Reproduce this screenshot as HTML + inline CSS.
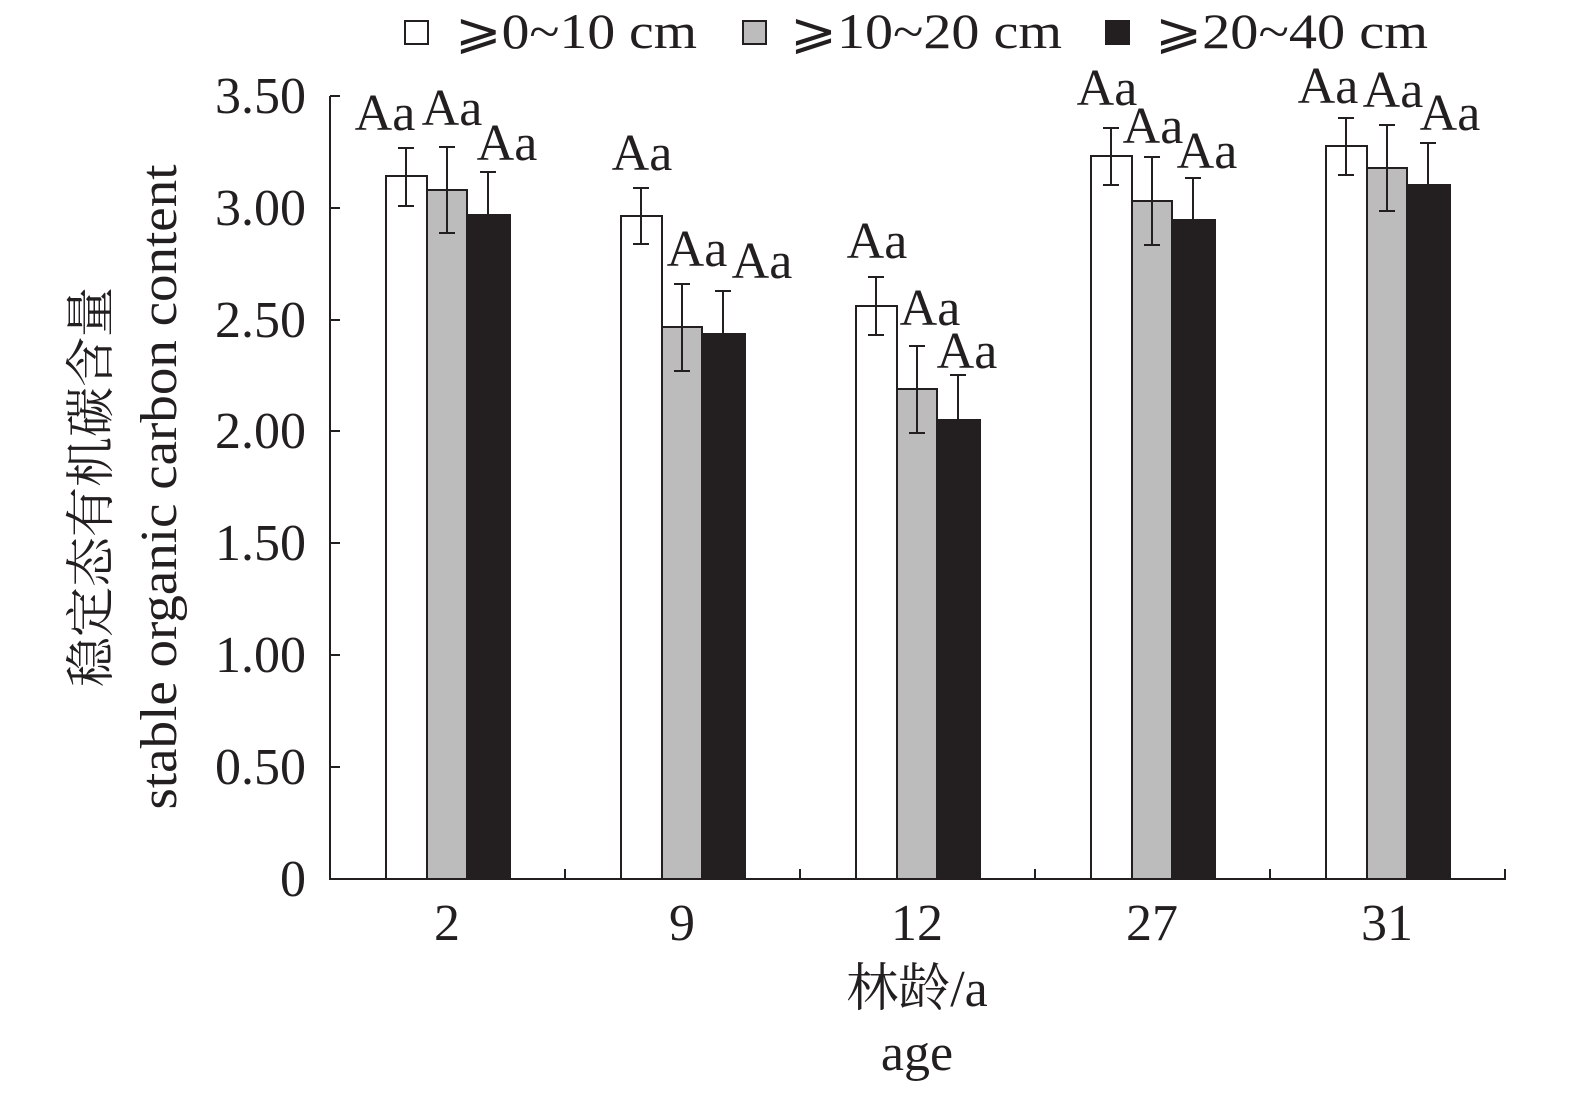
<!DOCTYPE html>
<html><head><meta charset="utf-8"><style>body{margin:0;background:#fff}svg{display:block}</style></head><body>
<svg width="1575" height="1096" viewBox="0 0 1575 1096" xmlns="http://www.w3.org/2000/svg" font-family="'Liberation Serif','Noto Serif CJK SC',serif" fill="#231f20">
<g font-size="50">
<rect x="405" y="21" width="23" height="23" fill="#fff" stroke="#231f20" stroke-width="2"/>
<text x="455" y="48" textLength="242" lengthAdjust="spacingAndGlyphs">⩾0~10 cm</text>
<rect x="743" y="21" width="23" height="23" fill="#bcbcbc" stroke="#231f20" stroke-width="2"/>
<text x="790" y="48" textLength="272" lengthAdjust="spacingAndGlyphs">⩾10~20 cm</text>
<rect x="1106" y="21" width="23" height="23" fill="#231f20" stroke="#231f20" stroke-width="2"/>
<text x="1155" y="48" textLength="273" lengthAdjust="spacingAndGlyphs">⩾20~40 cm</text>
</g>
<g stroke="#231f20" stroke-width="2" fill="none">
<line x1="330" y1="96" x2="330" y2="880"/>
<line x1="329" y1="879" x2="1506" y2="879"/>
<line x1="330" y1="96" x2="340" y2="96"/><line x1="330" y1="208" x2="340" y2="208"/><line x1="330" y1="320" x2="340" y2="320"/><line x1="330" y1="431" x2="340" y2="431"/><line x1="330" y1="543" x2="340" y2="543"/><line x1="330" y1="655" x2="340" y2="655"/><line x1="330" y1="767" x2="340" y2="767"/>
<line x1="565" y1="879" x2="565" y2="869"/><line x1="800" y1="879" x2="800" y2="869"/><line x1="1035" y1="879" x2="1035" y2="869"/><line x1="1270" y1="879" x2="1270" y2="869"/><line x1="1505" y1="879" x2="1505" y2="869"/>
</g>
<g font-size="52" text-anchor="end">
<text x="306" y="113">3.50</text><text x="306" y="225">3.00</text><text x="306" y="337">2.50</text><text x="306" y="448">2.00</text><text x="306" y="560">1.50</text><text x="306" y="672">1.00</text><text x="306" y="784">0.50</text><text x="306" y="896">0</text>
</g>
<g font-size="52" text-anchor="middle">
<text x="447" y="940">2</text><text x="682" y="940">9</text><text x="917" y="940">12</text><text x="1152" y="940">27</text><text x="1387" y="940">31</text>
<text x="917" y="1006">林龄/a</text><text x="917" y="1070">age</text>
</g>
<g font-size="50" text-anchor="middle" transform="translate(108,487) rotate(-90)"><text x="0" y="0">稳定态有机碳含量</text></g>
<g font-size="52" text-anchor="middle" transform="translate(176,487) rotate(-90)"><text x="0" y="0" textLength="645" lengthAdjust="spacingAndGlyphs">stable organic carbon content</text></g>
<g stroke="#231f20" stroke-width="2">
<rect x="386" y="176" width="41" height="703" fill="#fff"/><rect x="427" y="190" width="40" height="689" fill="#bcbcbc"/><rect x="467" y="215" width="43" height="664" fill="#231f20"/>
<rect x="621" y="216" width="41" height="663" fill="#fff"/><rect x="662" y="327" width="40" height="552" fill="#bcbcbc"/><rect x="702" y="334" width="43" height="545" fill="#231f20"/>
<rect x="856" y="306" width="41" height="573" fill="#fff"/><rect x="897" y="389" width="40" height="490" fill="#bcbcbc"/><rect x="937" y="420" width="43" height="459" fill="#231f20"/>
<rect x="1091" y="156" width="41" height="723" fill="#fff"/><rect x="1132" y="201" width="40" height="678" fill="#bcbcbc"/><rect x="1172" y="220" width="43" height="659" fill="#231f20"/>
<rect x="1326" y="146" width="41" height="733" fill="#fff"/><rect x="1367" y="168" width="40" height="711" fill="#bcbcbc"/><rect x="1407" y="185" width="43" height="694" fill="#231f20"/>
</g>
<g stroke="#231f20" stroke-width="2" fill="none">
<path d="M406 148V206M398 148H414M398 206H414"/>
<path d="M447 147V233M439 147H455M439 233H455"/>
<path d="M488 172V215M480 172H496"/>
<path d="M641 188V244M633 188H649M633 244H649"/>
<path d="M682 284V371M674 284H690M674 371H690"/>
<path d="M723 291V334M715 291H731"/>
<path d="M876 277V335M868 277H884M868 335H884"/>
<path d="M917 346V433M909 346H925M909 433H925"/>
<path d="M958 375V420M950 375H966"/>
<path d="M1111 128V185M1103 128H1119M1103 185H1119"/>
<path d="M1152 157V245M1144 157H1160M1144 245H1160"/>
<path d="M1193 178V220M1185 178H1201"/>
<path d="M1346 118V175M1338 118H1354M1338 175H1354"/>
<path d="M1387 125V211M1379 125H1395M1379 211H1395"/>
<path d="M1428 143V185M1420 143H1436"/>
</g>
<g font-size="52" text-anchor="middle">
<text x="385" y="130">Aa</text><text x="452" y="125">Aa</text><text x="507" y="160">Aa</text>
<text x="642" y="170">Aa</text><text x="697" y="266">Aa</text><text x="762" y="278">Aa</text>
<text x="877" y="258">Aa</text><text x="930" y="325">Aa</text><text x="967" y="368">Aa</text>
<text x="1107" y="105">Aa</text><text x="1153" y="143">Aa</text><text x="1207" y="168">Aa</text>
<text x="1328" y="103">Aa</text><text x="1393" y="107">Aa</text><text x="1450" y="130">Aa</text>
</g>
</svg>
</body></html>
